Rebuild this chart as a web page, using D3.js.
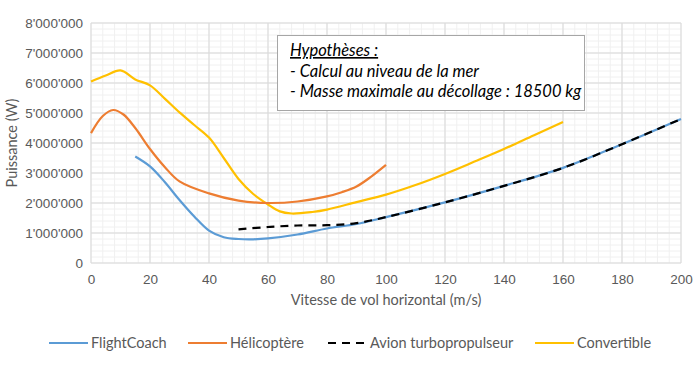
<!DOCTYPE html>
<html><head><meta charset="utf-8">
<script src="https://cdn.jsdelivr.net/npm/d3@7"></script>
<style>
body{margin:0;background:#fff;}
svg{font-family:Lato,"Open Sans",Arial,sans-serif;}
</style></head><body>
<svg id="c" width="700" height="365"></svg>
<script>
const xTicks = [0,20,40,60,80,100,120,140,160,180,200];
const yTicks = [0,1e6,2e6,3e6,4e6,5e6,6e6,7e6,8e6];
const seriesNames = ["FlightCoach","Hélicoptère","Avion turbopropulseur","Convertible"];
const flightCoach = [[15,3.55e6],[20,3.22e6],[25,2.7e6],[30,2.1e6],[35,1.55e6],[40,1.08e6],[45,0.86e6],[50,0.8e6],[55,0.79e6],[60,0.82e6],[70,0.95e6],[80,1.15e6],[90,1.3e6],[100,1.53e6],[120,2.02e6],[140,2.57e6],[160,3.17e6],[180,3.96e6],[200,4.8e6]];
const helicoptere = [[0,4.33e6],[4,4.9e6],[7.5,5.1e6],[11,4.95e6],[15,4.5e6],[20,3.8e6],[25,3.2e6],[30,2.72e6],[40,2.32e6],[50,2.08e6],[60,2.0e6],[70,2.05e6],[80,2.22e6],[85,2.36e6],[90,2.55e6],[95,2.88e6],[100,3.27e6]];
const avion = [[50,1.12e6],[60,1.2e6],[70,1.25e6],[80,1.26e6],[90,1.33e6],[100,1.53e6],[120,2.02e6],[140,2.57e6],[160,3.17e6],[180,3.96e6],[200,4.8e6]];
const convertible = [[0,6.05e6],[5,6.25e6],[10,6.42e6],[15,6.12e6],[20,5.92e6],[25,5.48e6],[30,5.02e6],[35,4.6e6],[40,4.18e6],[45,3.5e6],[50,2.8e6],[55,2.3e6],[60,1.95e6],[64,1.72e6],[68,1.65e6],[75,1.7e6],[80,1.78e6],[90,2.03e6],[100,2.28e6],[110,2.6e6],[120,2.97e6],[130,3.38e6],[140,3.8e6],[150,4.25e6],[160,4.7e6]];
const colors = ["#5B9BD5","#ED7D31","#000000","#FFC000"];
const noteLines = ["Hypothèses :","- Calcul au niveau de la mer","- Masse maximale au décollage : 18500 kg"];

const svg = d3.select("#c");
const L=91,R=681,T=23,B=263;
const x = d3.scaleLinear().domain([0,200]).range([L,R]);
const y = d3.scaleLinear().domain([0,8e6]).range([B,T]);

const g = svg.append("g");
d3.range(0,201,4).forEach(v=>{ g.append("line").attr("x1",x(v)).attr("x2",x(v)).attr("y1",T).attr("y2",B).attr("stroke","#f0f0f0"); });
d3.range(0,8e6+1,2e5).forEach(v=>{ g.append("line").attr("x1",L).attr("x2",R).attr("y1",y(v)).attr("y2",y(v)).attr("stroke","#f0f0f0"); });
xTicks.forEach(v=>{ g.append("line").attr("x1",x(v)).attr("x2",x(v)).attr("y1",T).attr("y2",B).attr("stroke","#d9d9d9"); });
yTicks.forEach(v=>{ g.append("line").attr("x1",L).attr("x2",R).attr("y1",y(v)).attr("y2",y(v)).attr("stroke","#d9d9d9"); });

const fmt = v => v===0 ? "0" : d3.format(",")(v).replace(/,/g,"'");
const ax = svg.append("g").attr("transform",`translate(0,${B})`).call(d3.axisBottom(x).tickValues(xTicks).tickSize(0).tickPadding(11));
const ay = svg.append("g").attr("transform",`translate(${L},0)`).call(d3.axisLeft(y).tickValues(yTicks).tickFormat(fmt).tickSize(0).tickPadding(8));
[ax,ay].forEach(a=>{ a.select(".domain").remove(); a.selectAll("text").attr("fill","#595959").attr("font-size","13.5px").attr("font-family","inherit"); });

svg.append("text").attr("x",386).attr("y",305).attr("text-anchor","middle").attr("fill","#595959").attr("font-size","14.5px").text("Vitesse de vol horizontal (m/s)");
svg.append("text").attr("transform","translate(17,143) rotate(-90)").attr("text-anchor","middle").attr("fill","#595959").attr("font-size","14.5px").text("Puissance (W)");

const line = d3.line().x(d=>x(d[0])).y(d=>y(d[1])).curve(d3.curveCatmullRom.alpha(0.5));
const data=[flightCoach,helicoptere,avion,convertible];
[convertible,helicoptere,flightCoach].forEach(s=>{
  const i=data.indexOf(s);
  svg.append("path").datum(s).attr("d",line).attr("fill","none").attr("stroke",colors[i]).attr("stroke-width",2.2);
});
svg.append("path").datum(avion).attr("d",line).attr("fill","none").attr("stroke","#000").attr("stroke-width",2.2).attr("stroke-dasharray","8,6");

svg.append("rect").attr("x",277.5).attr("y",35.5).attr("width",307).attr("height",75).attr("fill","#fff").attr("stroke","#a6a6a6");
noteLines.forEach((t,i)=>{
  svg.append("text").attr("x",290).attr("y",56+i*20.5).attr("font-style","italic").attr("font-size","16.5px").attr("fill","#000")
    .attr("text-decoration", i===0?"underline":null).text(t);
});

const legX=[49,188,328,535];
seriesNames.forEach((n,i)=>{
  svg.append("line").attr("x1",legX[i]).attr("x2",legX[i]+39).attr("y1",343).attr("y2",343).attr("stroke",colors[i]).attr("stroke-width",2.2).attr("stroke-dasharray", i===2?"8,6":null);
  svg.append("text").attr("x",legX[i]+42).attr("y",348).attr("fill","#595959").attr("font-size","14.5px").text(n);
});
</script></body></html>
